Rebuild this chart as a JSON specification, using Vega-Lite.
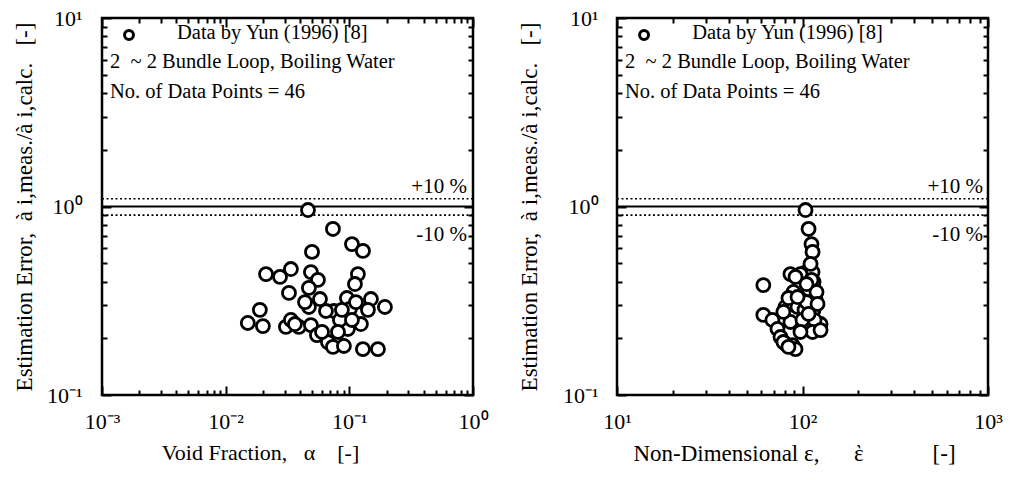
{
  "$schema": "https://vega.github.io/schema/vega-lite/v6.json",
  "padding": {"left": 12, "top": 5, "right": 0, "bottom": 0},
  "background": "white",
  "config": {
    "font": "Liberation Serif",
    "view": {"stroke": "black", "strokeWidth": 2.5},
    "axis": {
      "labelFont": "Liberation Serif", "labelFontSize": 22, "labelColor": "black",
      "titleFont": "Liberation Serif", "titleFontSize": 22, "titleFontWeight": "normal", "titleColor": "black",
      "tickColor": "black", "tickWidth": 2, "grid": false, "domain": false,
      "labelOverlap": false, "labelFlush": false, "labelBound": false
    }
  },
  "datasets": {
    "left": [
      {"x": 0.0463, "y": 0.958}, {"x": 0.0737, "y": 0.760}, {"x": 0.1050, "y": 0.632}, {"x": 0.1288, "y": 0.581},
      {"x": 0.0499, "y": 0.574}, {"x": 0.0212, "y": 0.438}, {"x": 0.0275, "y": 0.423}, {"x": 0.0337, "y": 0.466},
      {"x": 0.0489, "y": 0.449}, {"x": 0.0557, "y": 0.408}, {"x": 0.1173, "y": 0.438}, {"x": 0.1110, "y": 0.388},
      {"x": 0.0471, "y": 0.370}, {"x": 0.0325, "y": 0.348}, {"x": 0.0579, "y": 0.323}, {"x": 0.0956, "y": 0.327},
      {"x": 0.1495, "y": 0.323}, {"x": 0.1940, "y": 0.293}, {"x": 0.1414, "y": 0.283}, {"x": 0.1011, "y": 0.286},
      {"x": 0.0751, "y": 0.279}, {"x": 0.0647, "y": 0.279}, {"x": 0.0471, "y": 0.293}, {"x": 0.0189, "y": 0.283},
      {"x": 0.0151, "y": 0.241}, {"x": 0.0200, "y": 0.232}, {"x": 0.0307, "y": 0.230}, {"x": 0.0337, "y": 0.250},
      {"x": 0.0391, "y": 0.230}, {"x": 0.0489, "y": 0.235}, {"x": 0.0547, "y": 0.208}, {"x": 0.0671, "y": 0.191},
      {"x": 0.0737, "y": 0.180}, {"x": 0.0904, "y": 0.182}, {"x": 0.0974, "y": 0.224}, {"x": 0.1241, "y": 0.238},
      {"x": 0.0840, "y": 0.250}, {"x": 0.1288, "y": 0.175}, {"x": 0.1703, "y": 0.175}, {"x": 0.0871, "y": 0.283},
      {"x": 0.0363, "y": 0.238}, {"x": 0.0601, "y": 0.216}, {"x": 0.1131, "y": 0.311}, {"x": 0.0438, "y": 0.311},
      {"x": 0.0809, "y": 0.216}, {"x": 0.1050, "y": 0.250}
    ],
    "right": [
      {"x": 103.8, "y": 0.958}, {"x": 107.8, "y": 0.760}, {"x": 111.8, "y": 0.632}, {"x": 113.3, "y": 0.574},
      {"x": 61.5, "y": 0.383}, {"x": 86.1, "y": 0.438}, {"x": 102.5, "y": 0.444}, {"x": 113.3, "y": 0.449},
      {"x": 114.7, "y": 0.398}, {"x": 89.4, "y": 0.352}, {"x": 107.8, "y": 0.365}, {"x": 117.6, "y": 0.323},
      {"x": 80.9, "y": 0.293}, {"x": 94.0, "y": 0.293}, {"x": 102.5, "y": 0.283}, {"x": 114.7, "y": 0.283},
      {"x": 61.5, "y": 0.266}, {"x": 68.8, "y": 0.250}, {"x": 73.3, "y": 0.224}, {"x": 76.1, "y": 0.203},
      {"x": 80.9, "y": 0.187}, {"x": 88.3, "y": 0.184}, {"x": 91.7, "y": 0.175}, {"x": 110.5, "y": 0.238},
      {"x": 122.0, "y": 0.224}, {"x": 125.1, "y": 0.238}, {"x": 97.5, "y": 0.438}, {"x": 84.0, "y": 0.327},
      {"x": 110.5, "y": 0.496}, {"x": 105.1, "y": 0.311}, {"x": 116.1, "y": 0.250}, {"x": 119.0, "y": 0.352},
      {"x": 86.1, "y": 0.244}, {"x": 100.0, "y": 0.250}, {"x": 113.3, "y": 0.216}, {"x": 78.9, "y": 0.191},
      {"x": 107.8, "y": 0.269}, {"x": 91.7, "y": 0.423}, {"x": 120.5, "y": 0.304}, {"x": 97.5, "y": 0.216},
      {"x": 84.0, "y": 0.180}, {"x": 111.8, "y": 0.408}, {"x": 94.0, "y": 0.331}, {"x": 78.9, "y": 0.276},
      {"x": 125.1, "y": 0.221}, {"x": 105.1, "y": 0.388}
    ]
  },
  "hconcat": [
    {
      "width": 371, "height": 377,
      "layer": [
        {
          "data": {"values": [{"v": 1.1}, {"v": 0.9}]},
          "mark": {"type": "rule", "color": "black", "strokeWidth": 1.6, "strokeDash": [2, 2.5]},
          "encoding": {"y": {"field": "v", "type": "quantitative", "scale": {"type": "log", "domain": [0.1, 10], "nice": false}, "axis": null}}
        },
        {
          "data": {"values": [{"v": 1}]},
          "mark": {"type": "rule", "color": "black", "strokeWidth": 2},
          "encoding": {"y": {"field": "v", "type": "quantitative", "scale": {"type": "log", "domain": [0.1, 10], "nice": false},
            "axis": {"orient": "right", "labels": false, "title": null,
              "values": [0.1,0.2,0.3,0.4,0.5,0.6,0.7,0.8,0.9,1,2,3,4,5,6,7,8,9,10],
              "tickSize": {"condition": {"test": "datum.value==0.1||datum.value==1||datum.value==10", "value": -9}, "value": -5}}}}
        },
        {
          "data": {"name": "left"},
          "mark": {"type": "point", "shape": "circle", "filled": true, "fill": "white", "stroke": "black", "strokeWidth": 2.8, "size": 170, "opacity": 1},
          "encoding": {
            "x": {"field": "x", "type": "quantitative", "scale": {"type": "log", "domain": [0.001, 1], "nice": false},
              "axis": {"orient": "bottom", "title": "Void Fraction,\u00a0\u00a0\u00a0α\u00a0\u00a0\u00a0\u00a0[-]",
                "values": [0.001,0.002,0.003,0.004,0.005,0.006,0.007,0.008,0.009,0.01,0.02,0.03,0.04,0.05,0.06,0.07,0.08,0.09,0.1,0.2,0.3,0.4,0.5,0.6,0.7,0.8,0.9,1],
                "labelExpr": "datum.value==0.001?'10⁻³':datum.value==0.01?'10⁻²':datum.value==0.1?'10⁻¹':datum.value==1?'10⁰':''",
                "tickSize": {"condition": {"test": "datum.value==0.001||datum.value==0.01||datum.value==0.1||datum.value==1", "value": -9}, "value": -5},
                "labelPadding": 25, "titlePadding": 6, "titleX": 158}},
            "y": {"field": "y", "type": "quantitative", "scale": {"type": "log", "domain": [0.1, 10], "nice": false},
              "axis": {"orient": "left", "title": "Estimation Error,\u00a0\u00a0à i,meas./à i,calc.\u00a0\u00a0\u00a0[-]",
                "values": [0.1,0.2,0.3,0.4,0.5,0.6,0.7,0.8,0.9,1,2,3,4,5,6,7,8,9,10],
                "labelExpr": "datum.value==0.1?'10⁻¹':datum.value==1?'10⁰':datum.value==10?'10¹':''",
                "tickSize": {"condition": {"test": "datum.value==0.1||datum.value==1||datum.value==10", "value": -9}, "value": -5},
                "labelPadding": 29, "titlePadding": 10, "titleFontSize": 23}}
          }
        },
        {
          "data": {"values": [{"x": 0.001653, "y": 8.124}]},
          "mark": {"type": "point", "shape": "circle", "filled": true, "fill": "white", "stroke": "black", "strokeWidth": 3, "size": 80, "opacity": 1},
          "encoding": {
            "x": {"field": "x", "type": "quantitative", "scale": {"type": "log", "domain": [0.001, 1], "nice": false},
              "axis": {"orient": "top", "labels": false, "title": null,
                "values": [0.001,0.002,0.003,0.004,0.005,0.006,0.007,0.008,0.009,0.01,0.02,0.03,0.04,0.05,0.06,0.07,0.08,0.09,0.1,0.2,0.3,0.4,0.5,0.6,0.7,0.8,0.9,1],
                "tickSize": {"condition": {"test": "datum.value==0.001||datum.value==0.01||datum.value==0.1||datum.value==1", "value": -9}, "value": -5}}},
            "y": {"field": "y", "type": "quantitative", "scale": {"type": "log", "domain": [0.1, 10], "nice": false}, "axis": null}
          }
        },
        {
          "data": {"values": [
            {"x": 0.00404, "y": 7.737, "label": "Data by Yun (1996) [8]"},
            {"x": 0.001161, "y": 5.429, "label": "2 \u00a0~ 2 Bundle Loop, Boiling Water"},
            {"x": 0.001161, "y": 3.764, "label": "No. of Data Points = 46"}
          ]},
          "mark": {"type": "text", "align": "left", "baseline": "alphabetic", "fontSize": 20.5, "font": "Liberation Serif", "color": "black"},
          "encoding": {
            "x": {"field": "x", "type": "quantitative", "scale": {"type": "log", "domain": [0.001, 1], "nice": false}, "axis": null},
            "y": {"field": "y", "type": "quantitative", "scale": {"type": "log", "domain": [0.1, 10], "nice": false}, "axis": null},
            "text": {"field": "label"}
          }
        },
        {
          "data": {"values": [
            {"x": 0.8926, "y": 1.179, "label": "+10 %"},
            {"x": 0.8926, "y": 0.655, "label": "-10 %"}
          ]},
          "mark": {"type": "text", "align": "right", "baseline": "alphabetic", "fontSize": 21, "font": "Liberation Serif", "color": "black"},
          "encoding": {
            "x": {"field": "x", "type": "quantitative", "scale": {"type": "log", "domain": [0.001, 1], "nice": false}, "axis": null},
            "y": {"field": "y", "type": "quantitative", "scale": {"type": "log", "domain": [0.1, 10], "nice": false}, "axis": null},
            "text": {"field": "label"}
          }
        }
      ],
      "resolve": {"axis": {"x": "independent", "y": "independent"}}
    },
    {
      "width": 371, "height": 377,
      "layer": [
        {
          "data": {"values": [{"v": 1.1}, {"v": 0.9}]},
          "mark": {"type": "rule", "color": "black", "strokeWidth": 1.6, "strokeDash": [2, 2.5]},
          "encoding": {"y": {"field": "v", "type": "quantitative", "scale": {"type": "log", "domain": [0.1, 10], "nice": false}, "axis": null}}
        },
        {
          "data": {"values": [{"v": 1}]},
          "mark": {"type": "rule", "color": "black", "strokeWidth": 2},
          "encoding": {"y": {"field": "v", "type": "quantitative", "scale": {"type": "log", "domain": [0.1, 10], "nice": false},
            "axis": {"orient": "right", "labels": false, "title": null,
              "values": [0.1,0.2,0.3,0.4,0.5,0.6,0.7,0.8,0.9,1,2,3,4,5,6,7,8,9,10],
              "tickSize": {"condition": {"test": "datum.value==0.1||datum.value==1||datum.value==10", "value": -9}, "value": -5}}}}
        },
        {
          "data": {"name": "right"},
          "mark": {"type": "point", "shape": "circle", "filled": true, "fill": "white", "stroke": "black", "strokeWidth": 2.8, "size": 170, "opacity": 1},
          "encoding": {
            "x": {"field": "x", "type": "quantitative", "scale": {"type": "log", "domain": [10, 1000], "nice": false},
              "axis": {"orient": "bottom", "title": "Non-Dimensional ε,\u00a0\u00a0\u00a0\u00a0\u00a0\u00a0ὲ\u00a0\u00a0\u00a0\u00a0\u00a0\u00a0\u00a0\u00a0\u00a0\u00a0\u00a0\u00a0[-]",
                "values": [10,20,30,40,50,60,70,80,90,100,200,300,400,500,600,700,800,900,1000],
                "labelExpr": "datum.value==10?'10¹':datum.value==100?'10²':datum.value==1000?'10³':''",
                "tickSize": {"condition": {"test": "datum.value==10||datum.value==100||datum.value==1000", "value": -9}, "value": -5},
                "labelPadding": 25, "titlePadding": 6, "titleX": 177, "titleFontSize": 23}},
            "y": {"field": "y", "type": "quantitative", "scale": {"type": "log", "domain": [0.1, 10], "nice": false},
              "axis": {"orient": "left", "title": "Estimation Error,\u00a0\u00a0à i,meas./à i,calc.\u00a0\u00a0\u00a0[-]",
                "values": [0.1,0.2,0.3,0.4,0.5,0.6,0.7,0.8,0.9,1,2,3,4,5,6,7,8,9,10],
                "labelExpr": "datum.value==0.1?'10⁻¹':datum.value==1?'10⁰':datum.value==10?'10¹':''",
                "tickSize": {"condition": {"test": "datum.value==0.1||datum.value==1||datum.value==10", "value": -9}, "value": -5},
                "labelPadding": 28, "titlePadding": 21, "titleFontSize": 23}}
          }
        },
        {
          "data": {"values": [{"x": 13.99, "y": 8.124}]},
          "mark": {"type": "point", "shape": "circle", "filled": true, "fill": "white", "stroke": "black", "strokeWidth": 3, "size": 80, "opacity": 1},
          "encoding": {
            "x": {"field": "x", "type": "quantitative", "scale": {"type": "log", "domain": [10, 1000], "nice": false},
              "axis": {"orient": "top", "labels": false, "title": null,
                "values": [10,20,30,40,50,60,70,80,90,100,200,300,400,500,600,700,800,900,1000],
                "tickSize": {"condition": {"test": "datum.value==10||datum.value==100||datum.value==1000", "value": -9}, "value": -5}}},
            "y": {"field": "y", "type": "quantitative", "scale": {"type": "log", "domain": [0.1, 10], "nice": false}, "axis": null}
          }
        },
        {
          "data": {"values": [
            {"x": 25.43, "y": 7.737, "label": "Data by Yun (1996) [8]"},
            {"x": 11.05, "y": 5.429, "label": "2 \u00a0~ 2 Bundle Loop, Boiling Water"},
            {"x": 11.05, "y": 3.764, "label": "No. of Data Points = 46"}
          ]},
          "mark": {"type": "text", "align": "left", "baseline": "alphabetic", "fontSize": 20.5, "font": "Liberation Serif", "color": "black"},
          "encoding": {
            "x": {"field": "x", "type": "quantitative", "scale": {"type": "log", "domain": [10, 1000], "nice": false}, "axis": null},
            "y": {"field": "y", "type": "quantitative", "scale": {"type": "log", "domain": [0.1, 10], "nice": false}, "axis": null},
            "text": {"field": "label"}
          }
        },
        {
          "data": {"values": [
            {"x": 939.7, "y": 1.179, "label": "+10 %"},
            {"x": 939.7, "y": 0.655, "label": "-10 %"}
          ]},
          "mark": {"type": "text", "align": "right", "baseline": "alphabetic", "fontSize": 21, "font": "Liberation Serif", "color": "black"},
          "encoding": {
            "x": {"field": "x", "type": "quantitative", "scale": {"type": "log", "domain": [10, 1000], "nice": false}, "axis": null},
            "y": {"field": "y", "type": "quantitative", "scale": {"type": "log", "domain": [0.1, 10], "nice": false}, "axis": null},
            "text": {"field": "label"}
          }
        }
      ],
      "resolve": {"axis": {"x": "independent", "y": "independent"}}
    }
  ],
  "spacing": 144,
  "bounds": "flush"
}
